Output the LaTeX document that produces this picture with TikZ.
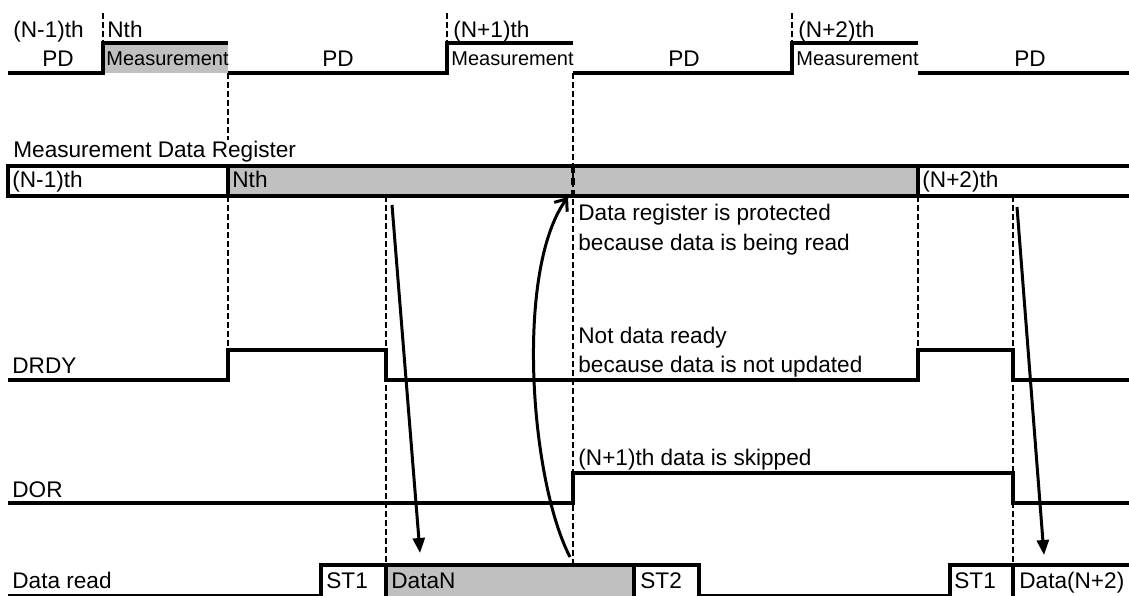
\documentclass[tikz,border=0pt]{standalone}
\usepackage{fontspec}
\setmainfont{Liberation Sans}
\usetikzlibrary{arrows.meta}
\definecolor{busgray}{RGB}{192,192,192}

\begin{document}
\begin{tikzpicture}[x=0.5pt,y=-0.5pt,
    wave/.style={line width=2.2pt},
    guide/.style={line width=1.3pt,dash pattern=on 3pt off 1.5pt},
    lbl/.style={anchor=base west,inner sep=0pt,font=\fontsize{11.3}{13}\selectfont},
    pdlbl/.style={anchor=base,inner sep=0pt,font=\fontsize{11.3}{13}\selectfont},
    measlbl/.style={anchor=base west,inner sep=0pt,font=\fontsize{10}{12}\selectfont},
    readarrow/.style={line width=1.5pt,-{Triangle[length=7.5pt,width=6pt]}}]
  \useasboundingbox (0,0) rectangle (1129,595);
  % grey areas
  \fill[busgray] (103,43) rectangle (228,73);
  \fill[busgray] (228,166) rectangle (918,196);
  \fill[busgray] (386,565) rectangle (634,600);
  % dashed timing guides
  \draw[guide] (103,13)--(103,43) (447,13)--(447,43) (792,13)--(792,43);
  \draw[guide] (228,73)--(228,140) (228,196)--(228,350);
  \draw[guide] (386,196)--(386,565);
  \draw[guide] (573,73)--(573,565);
  \draw[guide] (918,196)--(918,350);
  \draw[guide] (1013,196)--(1013,565);
  % measurement cycle
  \draw[wave] (8,73)--(103,73)--(103,43)--(228,43)
              (228,73)--(447,73)--(447,43)--(573,43)
              (573,73)--(792,73)--(792,43)--(918,43)
              (918,73)--(1135,73);
  \node[lbl] (prevth) at (13,37) {(N-1)th};
  \node[lbl] (nth) at (107,37) {Nth};
  \node[lbl] (nextth) at (453,37) {(N+1)th};
  \node[lbl] (afterth) at (798,37) {(N+2)th};
  \node[pdlbl] (pd0) at (58,66) {PD};
  \node[pdlbl] (pd1) at (338,66) {PD};
  \node[pdlbl] (pd2) at (684,66) {PD};
  \node[pdlbl] (pd3) at (1030,66) {PD};
  \node[measlbl] (meas1) at (106,65) {Measurement};
  \node[measlbl] (meas2) at (451,65) {Measurement};
  \node[measlbl] (meas3) at (796,65) {Measurement};
  % data register
  \node[lbl] (regname) at (13,157) {Measurement Data Register};
  \draw[wave] (1135,166)--(8,166)--(8,196)--(1135,196);
  \draw[wave] (228,166)--(228,196) (918,166)--(918,196);
  \draw[line width=1.8pt,dash pattern=on 3.5pt off 2.5pt] (573,166)--(573,196);
  \node[lbl] (regprev) at (12,187) {(N-1)th};
  \node[lbl] (regn) at (232,187) {Nth};
  \node[lbl] (regafter) at (922,187) {(N+2)th};
  \node[lbl] (protect1) at (578,220) {Data register is protected};
  \node[lbl] (protect2) at (578,250) {because data is being read};
  % DRDY
  \node[lbl] (drdy) at (12,373) {DRDY};
  \draw[wave] (8,380)--(228,380)--(228,350)--(386,350)--(386,380)--(918,380)
              --(918,350)--(1013,350)--(1013,380)--(1135,380);
  \node[lbl] (notready1) at (578,343) {Not data ready};
  \node[lbl] (notready2) at (578,372) {because data is not updated};
  % DOR
  \node[lbl] (dor) at (12,497) {DOR};
  \draw[wave] (8,503)--(573,503)--(573,473)--(1013,473)--(1013,503)--(1135,503);
  \node[lbl] (skipped) at (578,465) {(N+1)th data is skipped};
  % data read
  \node[lbl] (dataread) at (12,588) {Data read};
  \draw[wave] (8,596)--(321,596)--(321,565)--(699,565)--(699,596)--(950,596)
              --(950,565)--(1135,565);
  \draw[wave] (386,565)--(386,600) (634,565)--(634,600) (1013,565)--(1013,600);
  \node[lbl] (st1a) at (326,588) {ST1};
  \node[lbl] (datan) at (391,588) {DataN};
  \node[lbl] (st2) at (640,588) {ST2};
  \node[lbl] (st1b) at (954,588) {ST1};
  \node[lbl] (datanext) at (1019,588) {Data(N+2)};
  % arrows
  \coordinate (readn) at (392,205);
  \coordinate (gotn) at (420,553);
  \coordinate (readnext) at (1017,207);
  \coordinate (gotnext) at (1044,555);
  \coordinate (lockfrom) at (570,557);
  \coordinate (lockto) at (568,197);
  \draw[readarrow] (readn)--(gotn);
  \draw[readarrow] (readnext)--(gotnext);
  \draw[line width=1.5pt,-{Straight Barb[length=5pt,width=8pt]}]
    (lockfrom) .. controls (530,480) and (515,270) .. (lockto);
\end{tikzpicture}
\end{document}
